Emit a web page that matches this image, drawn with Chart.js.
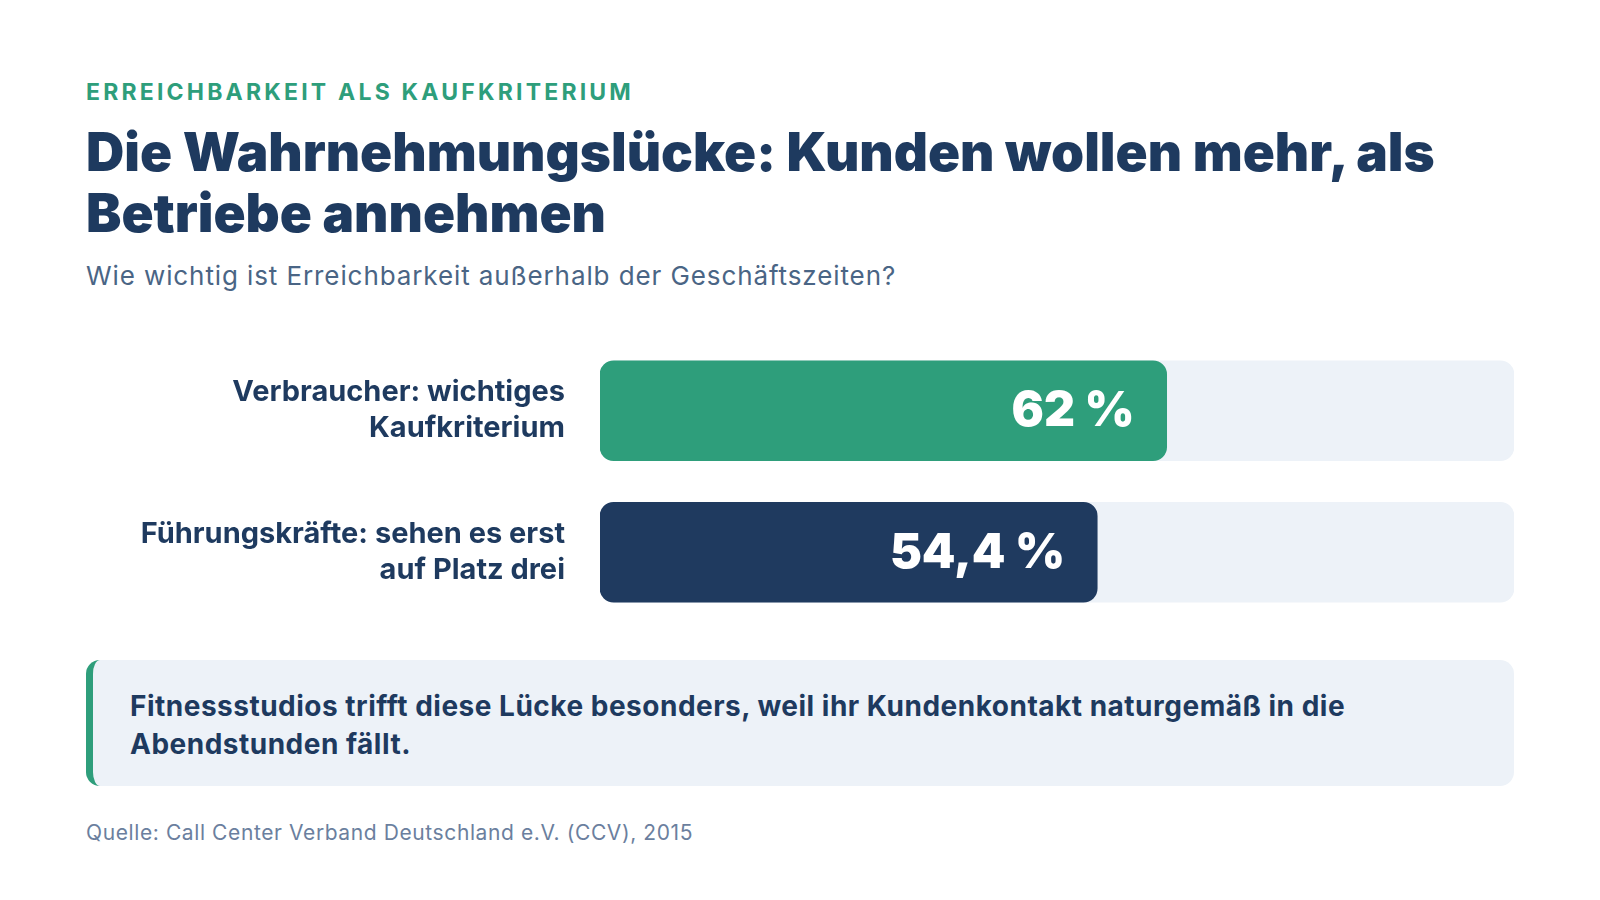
<!DOCTYPE html>
<html lang="de">
<head>
<meta charset="utf-8">
<title>Die Wahrnehmungslücke</title>
<script src="https://cdn.jsdelivr.net/npm/chart.js@4.4.1/dist/chart.umd.min.js"></script>
<style>
  html, body {
    margin: 0;
    padding: 0;
    background: #ffffff;
    width: 1600px;
    height: 900px;
    overflow: hidden;
    font-family: "Inter", "Noto Sans", sans-serif;
  }
  .abs { position: absolute; left: 86px; white-space: nowrap; }
  #eyebrow {
    top: 78px;
    font-size: 23px;
    line-height: 28px;
    font-weight: 700;
    letter-spacing: 3.2px;
    color: #2e9e7b;
  }
  #title {
    top: 122px;
    font-size: 53px;
    line-height: 61px;
    font-weight: 900;
    letter-spacing: 0px;
    color: #1e3a5f;
  }
  #subtitle {
    top: 260px;
    font-size: 26px;
    line-height: 32px;
    letter-spacing: 0.9px;
    color: #4a6585;
  }
  #chartBox {
    position: absolute;
    left: 86px;
    top: 340px;
    width: 1428px;
    height: 283px;
  }
  #note {
    position: absolute;
    left: 86px;
    top: 660px;
    width: 1428px;
    height: 126px;
    box-sizing: border-box;
    background: #edf2f8;
    border-left: 7px solid #2e9e7b;
    border-radius: 14px;
    padding: 27px 0 0 37px;
    font-size: 28px;
    line-height: 38px;
    font-weight: 700;
    letter-spacing: 0.5px;
    color: #1e3a5f;
  }
  #source {
    top: 820px;
    font-size: 21px;
    line-height: 26px;
    letter-spacing: 0.6px;
    color: #6b7f9e;
  }
</style>
</head>
<body>

<div id="eyebrow" class="abs">ERREICHBARKEIT ALS KAUFKRITERIUM</div>
<div id="title" class="abs">Die Wahrnehmungslücke: Kunden wollen mehr, als<br>Betriebe annehmen</div>
<div id="subtitle" class="abs">Wie wichtig ist Erreichbarkeit außerhalb der Geschäftszeiten?</div>

<div id="chartBox"><canvas id="chart"></canvas></div>

<div id="note">Fitnessstudios trifft diese Lücke besonders, weil ihr Kundenkontakt naturgemäß in die<br>Abendstunden fällt.</div>

<div id="source" class="abs">Quelle: Call Center Verband Deutschland e.V. (CCV), 2015</div>

<script>
// data
const categories = [
    ["Verbraucher: wichtiges", "Kaufkriterium"],
    ["Führungskräfte: sehen es erst", "auf Platz drei"]
];
const values = [62, 54.4];
const valueLabels = ["62 %", "54,4 %"];
const trackValues = [100, 100];
const barColors = ["#2e9e7b", "#1f3a5f"];

// value text inside the bar end
const valueLabelPlugin = {
    id: "valueLabels",
    afterDatasetsDraw(chart) {
        const ctx = chart.ctx;
        const meta = chart.getDatasetMeta(1);
        ctx.save();
        ctx.fillStyle = "#ffffff";
        ctx.font = "900 48px Inter, 'Noto Sans', sans-serif";
        ctx.textAlign = "right";
        ctx.textBaseline = "middle";
        meta.data.forEach((bar, i) => {
            ctx.fillText(valueLabels[i], bar.x - 32, bar.y + 1);
        });
        ctx.restore();
    }
};

const chart = new Chart(
    document.getElementById("chart"),
    {
        type: "bar",
        data: {
            labels: categories,
            datasets: [
                {
                    label: "Track",
                    data: trackValues,
                    backgroundColor: "#edf2f8",
                    borderRadius: 14,
                    borderSkipped: false,
                    barThickness: 100,
                    grouped: false,
                    order: 2
                },
                {
                    label: "Anteil",
                    data: values,
                    backgroundColor: barColors,
                    borderRadius: 14,
                    borderSkipped: false,
                    barThickness: 100,
                    grouped: false,
                    order: 1
                }
            ]
        },
        options: {
            indexAxis: "y",
            responsive: true,
            maintainAspectRatio: false,
            animation: false,
            layout: { padding: 0 },
            plugins: {
                legend: { display: false },
                tooltip: { enabled: false }
            },
            scales: {
                x: {
                    display: false,
                    min: 0,
                    max: 100
                },
                y: {
                    grid: { display: false },
                    border: { display: false },
                    ticks: {
                        padding: 27,
                        color: "#1e3a5f",
                        font: {
                            family: "Inter, 'Noto Sans', sans-serif",
                            size: 29,
                            weight: "700",
                            lineHeight: 1.24
                        }
                    },
                    afterFit(scale) {
                        // fixed label column, no extra vertical padding
                        scale.width = 514;
                        scale.paddingTop = 0;
                        scale.paddingBottom = 0;
                    }
                }
            }
        },
        plugins: [valueLabelPlugin]
    }
);
</script>
</body>
</html>
